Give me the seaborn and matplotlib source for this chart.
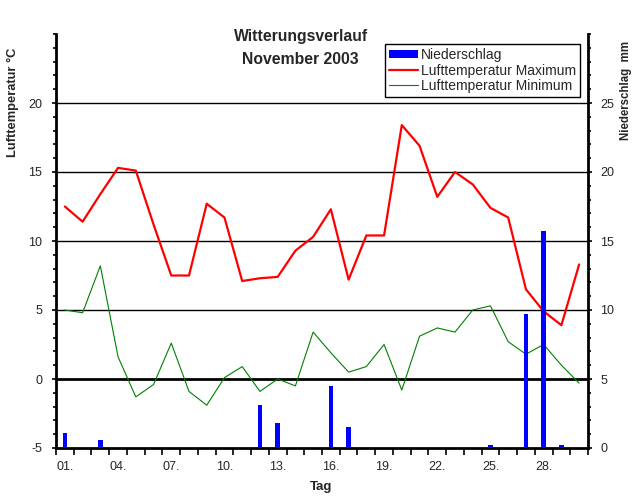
import pandas as pd
import matplotlib
matplotlib.use("Agg")
import matplotlib.pyplot as plt
import seaborn as sns
from matplotlib.patches import Patch
from matplotlib.lines import Line2D
from matplotlib.ticker import MultipleLocator, FixedLocator

# Werte November 2003
days = list(range(1, 31))
t_max = [12.5, 11.4, 13.4, 15.3, 15.1, 11.2, 7.5, 7.5, 12.7, 11.7,
         7.1, 7.3, 7.4, 9.3, 10.3, 12.3, 7.2, 10.4, 10.4, 18.4,
         16.9, 13.2, 15.0, 14.1, 12.4, 11.7, 6.5, 4.9, 3.9, 8.3]
t_min = [5.0, 4.8, 8.2, 1.6, -1.3, -0.4, 2.6, -0.9, -1.9, 0.1,
         0.9, -0.9, 0.0, -0.5, 3.4, 1.9, 0.5, 0.9, 2.5, -0.8,
         3.1, 3.7, 3.4, 5.0, 5.3, 2.7, 1.8, 2.5, 1.0, -0.3]
rain = [1.1, 0.0, 0.6, 0.0, 0.0, 0.0, 0.0, 0.0, 0.0, 0.0,
        0.0, 3.1, 1.8, 0.0, 0.0, 4.5, 1.5, 0.0, 0.0, 0.0,
        0.0, 0.0, 0.0, 0.0, 0.2, 0.0, 9.7, 15.7, 0.2, 0.0]
tick_days = [1, 4, 7, 10, 13, 16, 19, 22, 25, 28]
tick_labels = ["01.", "04.", "07.", "10.", "13.", "16.", "19.", "22.", "25.", "28."]

df = pd.DataFrame({"Tag": days, "Tmax": t_max, "Tmin": t_min, "Niederschlag": rain})

sns.set_style("white")
plt.rcParams["font.family"] = ["Liberation Sans", "DejaVu Sans"]
narrow = ["Liberation Sans Narrow", "Liberation Sans", "DejaVu Sans"]

W, H = 643, 501
fig = plt.figure(figsize=(W / 100, H / 100), dpi=100)
ax = fig.add_axes([56 / W, 1 - 448 / H, (588 - 56) / W, (448 - 34) / H])
ax2 = ax.twinx()

# Temperaturlinien
sns.lineplot(data=df, x="Tag", y="Tmax", ax=ax, color="#ff0000", linewidth=1.6, zorder=3)
sns.lineplot(data=df, x="Tag", y="Tmin", ax=ax, color="#008000", linewidth=0.8, zorder=3)

# Niederschlag als Balken auf der rechten Achse
sns.barplot(data=df, x="Tag", y="Niederschlag", ax=ax2, native_scale=True, width=0.25,
            color="#0000ff", saturation=1, errorbar=None, linewidth=0)

# Gitterlinien
for v in [5, 10, 15, 20]:
    ax.axhline(v, color="black", linewidth=1, zorder=1)
ax.axhline(0, color="black", linewidth=2, zorder=1)

# Achsen
ax.set_xlim(0.5, 30.5)
ax.set_ylim(-5, 25)
ax2.set_ylim(0, 30)

ax.xaxis.set_major_locator(FixedLocator(tick_days))
ax.set_xticklabels(tick_labels, family=narrow, fontsize=9)
ax.xaxis.set_minor_locator(FixedLocator([d + 0.5 for d in range(0, 31)]))
ax.tick_params(axis="x", which="major", length=0, pad=9)
ax.tick_params(axis="x", which="minor", bottom=True, length=5, width=1.2, direction="out", color="black")

ax.set_yticks([-5, 0, 5, 10, 15, 20])
ax.set_yticklabels(["-5", "0", "5", "10", "15", "20"], family=narrow, fontsize=9)
ax.yaxis.set_minor_locator(MultipleLocator(1))
ax.tick_params(axis="y", which="major", left=True, length=3, width=1.2, direction="out", pad=7, color="black")
ax.tick_params(axis="y", which="minor", left=True, length=2.5, width=1.2, direction="out", color="black")

ax2.set_yticks([0, 5, 10, 15, 20, 25])
ax2.set_yticklabels(["0", "5", "10", "15", "20", "25"], family=narrow, fontsize=9)
ax2.yaxis.set_minor_locator(MultipleLocator(1))
ax2.tick_params(axis="y", which="major", right=True, length=3, width=1.2, direction="out", pad=6, color="black")
ax2.tick_params(axis="y", which="minor", right=True, length=2.5, width=1.2, direction="out", color="black")

for a in (ax, ax2):
    a.set_xlabel("")
    a.set_ylabel("")
    a.spines["top"].set_visible(False)
ax.spines["right"].set_visible(False)
ax2.spines["left"].set_visible(False)
ax2.spines["bottom"].set_visible(False)
ax.spines["left"].set_linewidth(2)
ax.spines["bottom"].set_linewidth(2)
ax2.spines["right"].set_linewidth(2)
for s in ax.spines.values():
    s.set_color("black")
ax2.spines["right"].set_color("black")

# Legende
handles = [Patch(facecolor="#0000ff", edgecolor="none"),
           Line2D([], [], color="#ff0000", linewidth=1.6),
           Line2D([], [], color="#008000", linewidth=0.8)]
labels = ["Niederschlag", "Lufttemperatur Maximum", "Lufttemperatur Minimum"]
leg = ax2.legend(handles, labels, loc="upper left", bbox_to_anchor=(385 / W, 1 - 44 / H),
                 bbox_transform=fig.transFigure, borderaxespad=0, fancybox=False,
                 framealpha=1, edgecolor="black", fontsize=10, handlelength=2.1,
                 handleheight=0.5, handletextpad=0.2, labelspacing=0.1,
                 borderpad=0.3)
leg.get_frame().set_linewidth(1)

# Texte
fig.text(301 / W, 1 - 37 / H, "Witterungsverlauf", ha="center", va="center",
         fontsize=11.3, fontweight="bold")
fig.text(300 / W, 1 - 59 / H, "November 2003", ha="center", va="center",
         fontsize=11.3, fontweight="bold")
fig.text(13 / W, 1 - 102 / H, "Lufttemperatur °C", rotation=90, ha="center", va="center",
         fontsize=9.3, fontweight="bold")
fig.text(626 / W, 1 - 90 / H, "Niederschlag  mm", rotation=90, ha="center", va="center",
         fontsize=8.3, fontweight="bold")
fig.text(321 / W, 1 - 487 / H, "Tag", ha="center", va="center", fontsize=9.5, fontweight="bold")

fig.savefig("out.png", dpi=100)
